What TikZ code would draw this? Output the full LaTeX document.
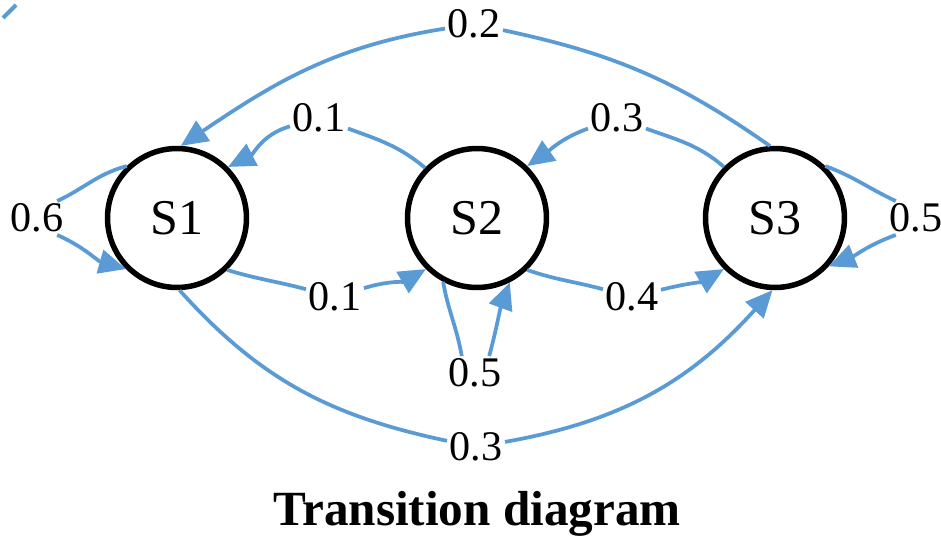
\documentclass[tikz,border=0pt]{standalone}
\usepackage{fontspec}
\setmainfont{Liberation Serif}
\usetikzlibrary{arrows.meta}
\definecolor{edgeblue}{RGB}{91,155,213}

\begin{document}
\begin{tikzpicture}[x=0.02cm, y=0.02cm,
	state/.style={circle, draw, line width=0.11cm, minimum size=2.78cm, font=\fontsize{28.5}{30}\selectfont},
	prob/.style={inner sep=1.5pt, outer sep=0pt, font=\fontsize{24}{26}\selectfont},
	trans/.style={draw=edgeblue, line width=0.075cm, -{Triangle[length=0.54cm,width=0.48cm]}},]

\useasboundingbox (0,-537) rectangle (941,0);

\node[state] (s1) at (177,-218) {S1};
\node[state] (s2) at (477,-218) {S2};
\node[state] (s3) at (775,-218) {S3};

\node[prob] (p02) at (474,-24) {0.2};
\node[prob] (p21) at (319,-118) {0.1};
\node[prob] (p32) at (617,-118) {0.3};
\node[prob] (p11) at (37,-218) {0.6};
\node[prob] (p33) at (916,-218) {0.5};
\node[prob] (p12) at (335,-297) {0.1};
\node[prob] (p23) at (632,-297) {0.4};
\node[prob] (p22) at (475,-373) {0.5};
\node[prob] (p13) at (476,-447) {0.3};
\node[anchor=base, font=\bfseries\fontsize{28}{30}\selectfont] (title) at (477,-525) {Transition diagram};

\draw[trans] (s3.94) to[out=145,in=-12] (p02) to[out=189,in=34] (s1.87);
\draw[trans] (s2.136) to[out=140,in=-20] (p21) to[out=196,in=27] (s1.45);
\draw[trans] (s3.135) to[out=139,in=-20] (p32) to[out=200,in=35] (s2.46);
\draw[trans] (s1.134) to[out=195,in=25] (p11.40) (p11.-40) to[out=-24,in=164] (s1.225);
\draw[trans] (s3.46) to[out=-20,in=155] (p33.140) (p33.220) to[out=200,in=22] (s3.-42);
\draw[trans] (s1.-46) to[out=-17,in=165] (p12) to[out=17,in=210] (s2.225);
\draw[trans] (s2.-46) to[out=-19,in=165] (p23) to[out=14,in=210] (s3.225);
\draw[trans] (s2.-118) to[out=-80,in=100] (p22.128) (p22.50) to[out=75,in=-110] (s2.-63);
\draw[trans] (s1.-88) to[out=-48,in=168] (p13) to[out=10,in=228] (s3.-92);

\draw[edgeblue, line width=0.08cm] (3,-18) -- (16,-5);
\end{tikzpicture}
\end{document}
